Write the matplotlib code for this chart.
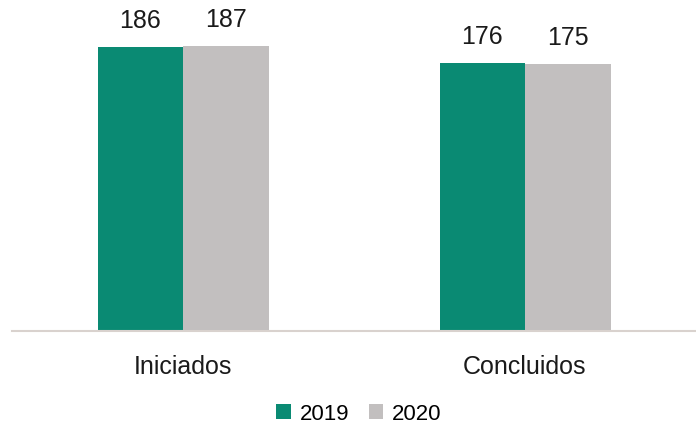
import matplotlib.pyplot as plt
import numpy as np

categories = ["Iniciados", "Concluidos"]
years = ["2019", "2020"]
values_2019 = [186, 176]
values_2020 = [187, 175]

colors = ["#0a8a73", "#c2bfbf"]

plt.rcParams['font.family'] = ['Liberation Sans', 'DejaVu Sans']

fig = plt.figure(figsize=(6.96, 4.44), dpi=100)
ax = fig.add_axes([12 / 696, 113 / 444, 1 - 12 / 696, 1 - 113 / 444])

x = np.arange(len(categories))
width = 0.25

bars1 = ax.bar(x - width / 2, values_2019, width, color=colors[0], label=years[0])
bars2 = ax.bar(x + width / 2, values_2020, width, color=colors[1], label=years[1])

for bars in (bars1, bars2):
    for b in bars:
        ax.annotate(f"{int(b.get_height())}",
                    (b.get_x() + b.get_width() / 2, b.get_height()),
                    xytext=(0, 10), textcoords="offset points",
                    ha="center", va="bottom", fontsize=18, color="#1a1a1a")

ax.set_xlim(-0.5, 1.5)
ax.set_ylim(0, 217)
ax.set_xticks(x)
ax.set_xticklabels(categories, fontsize=18, color="#1a1a1a")
ax.tick_params(axis="x", length=0, pad=17)
ax.set_yticks([])
for side in ("top", "right", "left"):
    ax.spines[side].set_visible(False)
ax.spines["bottom"].set_color("#d9d2ce")
ax.spines["bottom"].set_linewidth(1.5)

fig.legend(handles=[bars1, bars2], labels=years, loc="center",
           bbox_to_anchor=(359 / 696, 1 - 414 / 444), ncol=2, frameon=False,
           fontsize=16, handlelength=0.65, handleheight=0.65, handletextpad=0.4,
           columnspacing=0.9)

plt.savefig("out.png", dpi=100)
